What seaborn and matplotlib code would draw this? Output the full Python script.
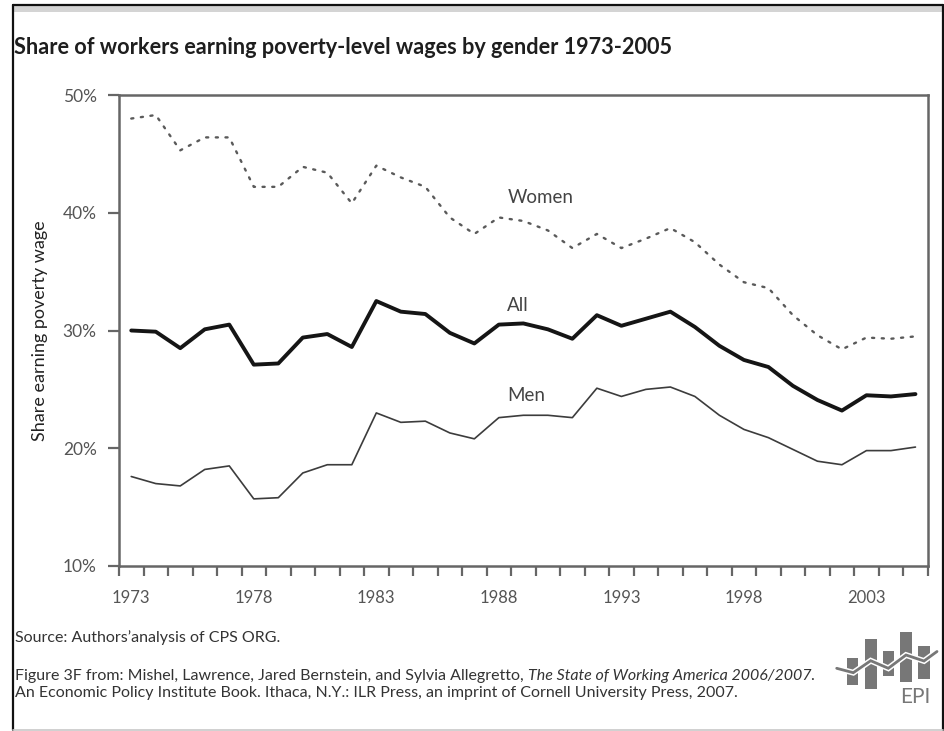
import matplotlib
matplotlib.use("Agg")
import matplotlib.pyplot as plt
from matplotlib.lines import Line2D
from matplotlib.patches import Rectangle
from matplotlib.ticker import FixedLocator, FuncFormatter
import seaborn as sns
import pandas as pd

# ---------------- data ----------------
years = list(range(1973, 2006))
women = [48.0, 48.3, 45.3, 46.4, 46.4, 42.2, 42.2, 43.9, 43.4, 40.8, 44.0, 43.0,
         42.2, 39.6, 38.2, 39.6, 39.3, 38.5, 37.0, 38.2, 37.0, 37.8, 38.7, 37.5,
         35.6, 34.1, 33.6, 31.3, 29.6, 28.4, 29.4, 29.3, 29.5]
all_workers = [30.0, 29.9, 28.5, 30.1, 30.5, 27.1, 27.2, 29.4, 29.7, 28.6, 32.5, 31.6,
               31.4, 29.8, 28.9, 30.5, 30.6, 30.1, 29.3, 31.3, 30.4, 31.0, 31.6, 30.3,
               28.7, 27.5, 26.9, 25.3, 24.1, 23.2, 24.5, 24.4, 24.6]
men = [17.6, 17.0, 16.8, 18.2, 18.5, 15.7, 15.8, 17.9, 18.6, 18.6, 23.0, 22.2,
       22.3, 21.3, 20.8, 22.6, 22.8, 22.8, 22.6, 25.1, 24.4, 25.0, 25.2, 24.4,
       22.8, 21.6, 20.9, 19.9, 18.9, 18.6, 19.8, 19.8, 20.1]
series_names = ["Women", "All", "Men"]
year_labels = [1973, 1978, 1983, 1988, 1993, 1998, 2003]
y_ticks = [10, 20, 30, 40, 50]

title = "Share of workers earning poverty-level wages by gender 1973-2005"
ylabel = "Share earning poverty wage"
source = "Source: Authors\u2019analysis of CPS ORG."
cite1a = "Figure 3F from: Mishel, Lawrence, Jared Bernstein, and Sylvia Allegretto, "
cite1b = "The State of Working America 2006/2007"
cite2 = "An Economic Policy Institute Book. Ithaca, N.Y.: ILR Press, an imprint of Cornell University Press, 2007."

df = pd.DataFrame({"year": years * 3,
                   "share": women + all_workers + men,
                   "series": sum([[n] * len(years) for n in series_names], [])})

# ---------------- style ----------------
sns.set_theme(style="white")
plt.rcParams["font.family"] = ["Lato", "DejaVu Sans"]

W, H = 944, 731
fig = plt.figure(figsize=(W / 100, H / 100), dpi=100)
fig.patch.set_facecolor("white")

def fx(px):
    return px / W

def fy(py):
    return 1 - py / H

ax_l, ax_r, ax_t, ax_b = 119, 927.7, 95, 566
ax = fig.add_axes([fx(ax_l), fy(ax_b), fx(ax_r - ax_l), (ax_b - ax_t) / H])

styles = {
    "Women": dict(color="#5a5a5a", lw=1.7, ls=(0, (0.9, 3.2))),
    "All": dict(color="#151515", lw=2.8, ls="-"),
    "Men": dict(color="#3c3c3c", lw=1.2, ls="-"),
}
for name in series_names:
    sub = df[df["series"] == name]
    st = styles[name]
    sns.lineplot(data=sub, x="year", y="share", ax=ax, color=st["color"],
                 linewidth=st["lw"], linestyle=st["ls"], legend=False)
    if name == "Women":
        ax.lines[-1].set_dash_capstyle("round")

ax.set_xlim(1972.5, 2005.5)
ax.set_ylim(10, 50)

spine_c = "#666666"
for s in ax.spines.values():
    s.set_visible(True)
    s.set_color(spine_c)
    s.set_linewidth(1.8)

# x ticks: tick marks at year boundaries, labels at year centers
ax.xaxis.set_major_locator(FixedLocator(year_labels))
ax.xaxis.set_minor_locator(FixedLocator([y + 0.5 for y in range(1972, 2006)]))
ax.tick_params(axis="x", which="major", length=0, pad=17, labelsize=12,
               labelcolor="#555555")
ax.tick_params(axis="x", which="minor", length=7, width=1.6, color=spine_c,
               direction="out", bottom=True)
ax.set_xticklabels([str(y) for y in year_labels])

ax.yaxis.set_major_locator(FixedLocator(y_ticks))
ax.yaxis.set_major_formatter(FuncFormatter(lambda v, p: f"{int(v)}%"))
ax.tick_params(axis="y", which="major", length=8, width=1.6, color=spine_c,
               direction="out", left=True, pad=8, labelsize=12.5,
               labelcolor="#555555")

ax.set_xlabel("")
ax.set_ylabel(ylabel, fontsize=13, color="#222222", labelpad=12)
ax.yaxis.set_label_coords(fx(48 - ax_l) / fx(ax_r - ax_l), 0.5)

# series labels
lab_kw = dict(fontsize=13.5, color="#444444", ha="left", va="center")
ax.text(1988.35, 41.3, "Women", **lab_kw)
ax.text(1988.35, 32.1, "All", **lab_kw)
ax.text(1988.35, 24.5, "Men", **lab_kw)

# ---------------- text outside ----------------
fig.text(fx(14), fy(48), title, fontsize=15.6, fontweight="bold", color="#1e1e1e",
         ha="left", va="center")
fig.text(fx(15), fy(638), source, fontsize=11.5, color="#333333", ha="left", va="center")
t1 = fig.text(fx(15), fy(676), cite1a, fontsize=11.5, color="#333333", ha="left", va="center")
fig.canvas.draw()
bb = t1.get_window_extent()
fig.text(bb.x1 / W, fy(676), cite1b + ".", fontsize=11.5, color="#333333", ha="left",
         va="center", style="italic")
fig.text(fx(15), fy(693), cite2, fontsize=11.5, color="#333333", ha="left", va="center")

# ---------------- frame ----------------
fig.add_artist(Rectangle((fx(13), fy(12)), fx(929), 7 / H, transform=fig.transFigure,
                         color="#d4d4d4", lw=0))
fig.add_artist(Line2D([fx(12.5), fx(942.7)], [fy(5), fy(5)], transform=fig.transFigure,
                      color="#111111", lw=1.6))
fig.add_artist(Line2D([fx(12.5), fx(12.5)], [fy(5), fy(730)], transform=fig.transFigure,
                      color="#111111", lw=1.6))
fig.add_artist(Line2D([fx(942.7), fx(942.7)], [fy(5), fy(730)], transform=fig.transFigure,
                      color="#111111", lw=1.6))
fig.add_artist(Line2D([fx(12.5), fx(942.7)], [fy(729.5), fy(729.5)], transform=fig.transFigure,
                      color="#c8c8c8", lw=1.2))

# ---------------- EPI logo (decoration) ----------------
logo_c = "#777777"
bars = [(846.7, 858.3, 658, 685), (865, 876.7, 639, 689), (882.7, 894, 650.7, 676),
        (900, 911.7, 631.7, 681.7), (918.3, 930, 646, 679)]
for x0, x1, y0, y1 in bars:
    fig.add_artist(Rectangle((fx(x0), fy(y1)), fx(x1 - x0), (y1 - y0) / H,
                             transform=fig.transFigure, color=logo_c, lw=0))
zz = [(836.7, 668.3), (853.3, 672.7), (870.7, 660.7), (888.3, 668.3), (906, 655),
      (924, 661), (937, 651.5)]
fig.add_artist(Line2D([fx(p[0]) for p in zz], [fy(p[1]) for p in zz],
                      transform=fig.transFigure, color="white", lw=4.2,
                      solid_joinstyle="miter"))
fig.add_artist(Line2D([fx(p[0]) for p in zz], [fy(p[1]) for p in zz],
                      transform=fig.transFigure, color=logo_c, lw=2.0,
                      solid_joinstyle="miter"))
fig.text(fx(915), fy(697), "EPI", fontsize=15, color=logo_c, ha="center", va="center",
         family=["Lato", "DejaVu Sans"])

fig.savefig("out.png", dpi=100)
